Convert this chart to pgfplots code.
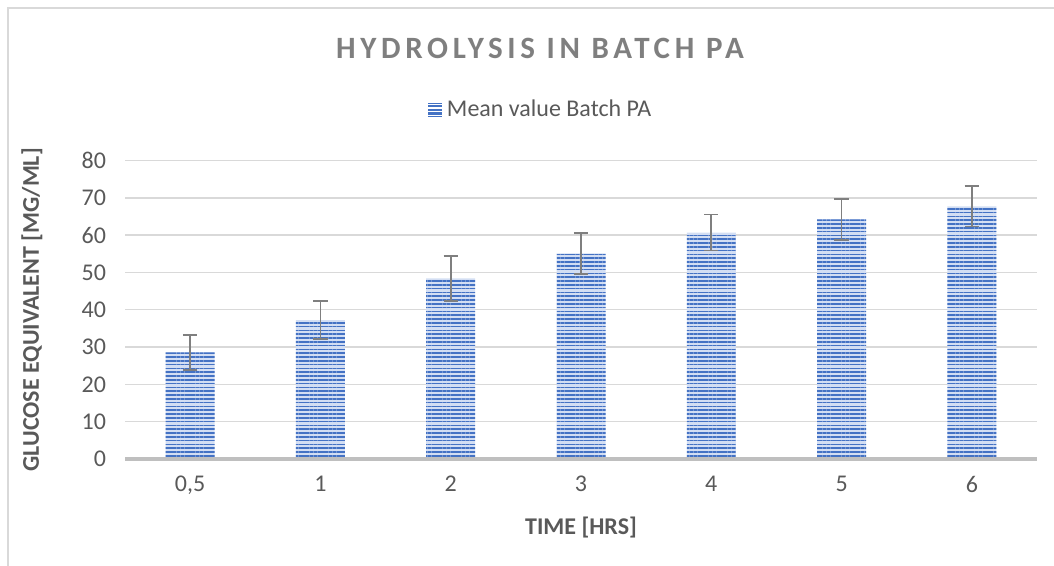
\documentclass[border=0pt]{standalone}
\usepackage{fontspec}
\setmainfont{Carlito}
\newfontfamily\titlefont[LetterSpace=15]{Carlito}
\usepackage{pgfplots}
\pgfplotsset{compat=1.18}
\usetikzlibrary{patterns.meta}
\definecolor{darkbar}{HTML}{4472C4}
\definecolor{lightbar}{HTML}{D3DEF3}
\definecolor{gridc}{HTML}{D9D9D9}
\definecolor{txt}{HTML}{595959}
\definecolor{errc}{HTML}{7F7F7F}
\begin{document}
\begin{tikzpicture}
\useasboundingbox (0,0) rectangle (527pt,283pt);
\draw[gridc, line width=0.8pt] (4pt,0) -- (4pt,279pt) -- (527pt,279pt);
\node[font=\titlefont\fontsize{15.5}{18}\selectfont\bfseries, text=errc] at (270pt,259pt) {HYDROLYSIS IN BATCH PA};
\begin{axis}[
  at={(62.5pt,53.5pt)}, anchor=south west,
  scale only axis, width=456pt, height=149.25pt,
  ybar, bar width=24.5pt,
  xmin=-0.5, xmax=6.5, ymin=0, ymax=80,
  xtick=data, xticklabels={{0,5},1,2,3,4,5,6},
  ytick={0,10,...,80},
  major tick length=0pt,
  axis line style={draw=none},
  ymajorgrids, grid style={gridc, line width=0.75pt},
  axis x line*=bottom, axis y line*=left,
  tick label style={font=\fontsize{12}{14}\selectfont, text=txt},
  /pgf/number format/assume math mode=true,
  yticklabel style={xshift=-6pt},
  xticklabel style={yshift=-5pt},
  xlabel={\textbf{TIME [HRS]}},
  ylabel={\textbf{GLUCOSE EQUIVALENT [MG/ML]}},
  label style={font=\fontsize{12}{14}\selectfont, text=txt},
  xlabel style={at={(axis description cs:0.5,0)}, anchor=center, yshift=-34.5pt},
  ylabel style={at={(axis description cs:0,0.5)}, anchor=center, yshift=46.5pt},
  legend style={at={(0.4567,1.169)}, anchor=center, draw=none, fill=none,
    font=\fontsize{12}{14}\selectfont, text=txt, inner sep=0pt,
    /tikz/every even column/.append style={column sep=2pt}},
  legend image code/.code={\fill[darkbar] (0pt,-3.5pt) rectangle (7pt,3.5pt);
    \foreach \k in {-2.6,-0.8,1.0,2.8} {\draw[white, line width=0.6pt] (0pt,\k pt) -- (7pt,\k pt);}},
  clip=false,
]
\addplot[draw=none, preaction={fill=lightbar},
  pattern={Lines[angle=0, distance=1.9pt, line width=0.8pt]}, pattern color=darkbar,
  error bars/.cd, y dir=both, y explicit,
  error bar style={errc, line width=0.8pt},
  error mark options={errc, line width=0.8pt, mark size=3.6pt, rotate=90}]
coordinates {
 (0,28.6) +- (0,4.7)
 (1,37.2) +- (0,5.1)
 (2,48.4) +- (0,6.0)
 (3,55.1) +- (0,5.5)
 (4,60.7) +- (0,4.8)
 (5,64.2) +- (0,5.5)
 (6,67.7) +- (0,5.4)
};
\addlegendentry{Mean value Batch PA}
\draw[draw={rgb,255:red,191;green,191;blue,191}, line width=1.6pt] (axis cs:-0.5,0) -- (axis cs:6.5,0);
\end{axis}
\end{tikzpicture}
\end{document}
